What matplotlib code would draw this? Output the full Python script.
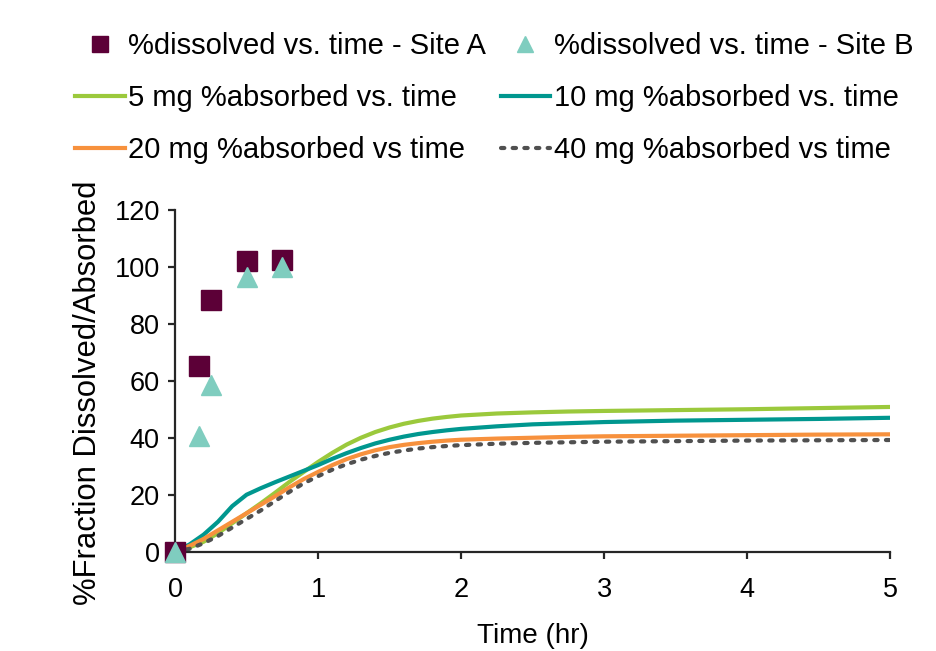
import matplotlib.pyplot as plt
from matplotlib.lines import Line2D

plt.rcParams['font.family'] = ['Liberation Sans', 'DejaVu Sans']

# dissolution data (measured)
t_diss = [0, 0.167, 0.25, 0.5, 0.75]
site_a = [0, 65, 88.5, 102, 102.5]
t_diss_b = [0, 0.167, 0.25, 0.5, 0.75]
site_b = [0, 40.5, 58.5, 96.5, 100]

# simulated absorption curves
t_abs = [0, 0.1, 0.2, 0.3, 0.4, 0.5, 0.6, 0.7, 0.8, 0.9, 1.0, 1.1, 1.2,
         1.3, 1.4, 1.5, 1.6, 1.7, 1.8, 1.9, 2.0, 2.25, 2.5, 2.75, 3.0,
         3.5, 4.0, 4.5, 5.0]
abs_5mg = [0, 1.5, 3.5, 6.5, 10, 13.5, 17, 20.7, 24.5, 28, 31.5, 34.7, 37.6,
           40.0, 42.0, 43.6, 44.9, 45.9, 46.7, 47.3, 47.8, 48.5, 48.9, 49.2,
           49.4, 49.7, 50.0, 50.4, 50.8]
abs_10mg = [0, 2.5, 6, 10.5, 16, 20, 22.3, 24.4, 26.4, 28.4, 30.4, 32.6, 34.6,
            36.4, 38.0, 39.3, 40.4, 41.3, 42.0, 42.6, 43.1, 44.0, 44.7, 45.1,
            45.5, 46.0, 46.3, 46.6, 47.0]
abs_20mg = [0, 2, 4.5, 7.5, 10.5, 13.5, 16.5, 19.5, 22.6, 25.5, 28.0, 30.4,
            32.5, 34.2, 35.6, 36.7, 37.5, 38.1, 38.6, 39.0, 39.3, 39.7, 40.0,
            40.3, 40.5, 40.7, 40.9, 41.1, 41.2]
abs_40mg = [0, 1, 3, 5.5, 8.5, 11.5, 14.5, 17.8, 21.0, 24.0, 26.5, 28.8,
            30.7, 32.3, 33.6, 34.7, 35.5, 36.2, 36.7, 37.1, 37.4, 37.9, 38.2,
            38.4, 38.6, 38.8, 39.0, 39.1, 39.2]

c_a = '#5c0037'
c_b = '#7fcdbf'
c_5 = '#9bc93c'
c_10 = '#00978f'
c_20 = '#f7913d'
c_40 = '#505050'
lw = 3.0
dots = (0, (0.8, 2.0))

fig = plt.figure(figsize=(9.36, 6.51), dpi=100)
ax = fig.add_axes([0.187, 0.1525, 0.764, 0.5253])

ax.plot(t_abs, abs_5mg, color=c_5, lw=lw, solid_capstyle='round')
ax.plot(t_abs, abs_10mg, color=c_10, lw=lw, solid_capstyle='round')
ax.plot(t_abs, abs_20mg, color=c_20, lw=lw, solid_capstyle='round')
ax.plot(t_abs, abs_40mg, color=c_40, lw=lw, linestyle=dots,
        dash_capstyle='round')
ax.plot(t_diss, site_a, 's', color=c_a, ms=14, clip_on=False, zorder=5)
ax.plot(t_diss_b, site_b, '^', color=c_b, ms=14, clip_on=False, zorder=6)

ax.set_xlim(0, 5)
ax.set_ylim(0, 120)
ax.set_xticks(range(0, 6))
ax.set_yticks(range(0, 121, 20))
for s in ['top', 'right']:
    ax.spines[s].set_visible(False)
for s in ['left', 'bottom']:
    ax.spines[s].set_color('#262626')
    ax.spines[s].set_linewidth(1.6)
ax.tick_params(axis='both', direction='out', length=5, width=1.6,
               color='#262626', labelsize=19.5)
ax.tick_params(axis='x', pad=13)
ax.tick_params(axis='y', pad=6)
ax.set_xlabel('Time (hr)', fontsize=20)
ax.xaxis.label.set_va('center')
ax.xaxis.set_label_coords(0.5, -0.2466)
ax.set_ylabel('%Fraction Dissolved/Absorbed', fontsize=22.3)
ax.yaxis.label.set_va('center')
ax.yaxis.set_label_coords(-0.1217, 0.4656)

handles = [
    Line2D([], [], ls='none', marker='s', color=c_a, ms=11),
    Line2D([], [], color=c_5, lw=lw),
    Line2D([], [], color=c_20, lw=lw),
    Line2D([], [], ls='none', marker='^', color=c_b, ms=11),
    Line2D([], [], color=c_10, lw=lw),
    Line2D([], [], color=c_40, lw=lw, ls=dots, dash_capstyle='round'),
]
labels = ['%dissolved vs. time - Site A', '5 mg %absorbed vs. time',
          '20 mg %absorbed vs time', '%dissolved vs. time - Site B',
          '10 mg %absorbed vs. time', '40 mg %absorbed vs time']
fig.legend(handles, labels, ncol=2, loc='upper left',
           bbox_to_anchor=(75 / 936, 1 - 32 / 651), frameon=False,
           fontsize=21, handlelength=1.7, handletextpad=0.12,
           columnspacing=0.5, labelspacing=0.82, borderpad=0,
           borderaxespad=0)

fig.savefig('out.png', dpi=100)
